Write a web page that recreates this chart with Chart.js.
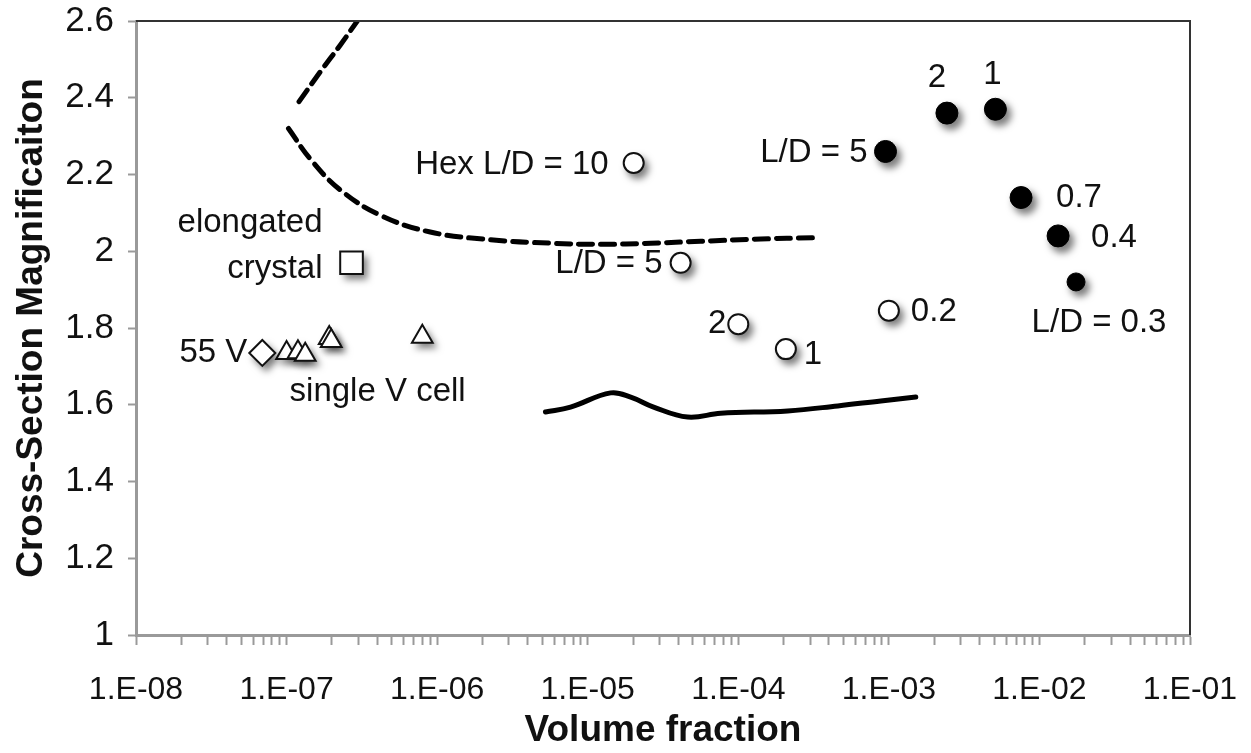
<!DOCTYPE html>
<html lang="en">
<head>
<meta charset="UTF-8">
<title>Cross-Section Magnification</title>
<script src="https://cdn.jsdelivr.net/npm/chart.js@4.4.1/dist/chart.umd.min.js"></script>
<style>
  html, body { margin: 0; padding: 0; background: #fff; }
  #wrap { width: 1251px; height: 753px; }
</style>
</head>
<body>
<div id="wrap"><canvas id="myChart" width="1251" height="753"></canvas></div>
<script>
// values
var diamondX = [6.9e-8];
var diamondY = [1.735];
var triX = [1.0e-7, 1.19e-7, 1.33e-7, 1.92e-7, 1.98e-7, 7.97e-7];
var triY = [1.735, 1.737, 1.73, 1.774, 1.766, 1.777];
var squareX = [2.7e-7];
var squareY = [1.97];
var openX = [2.02e-5, 4.14e-5, 1.0e-4, 2.07e-4, 1.0e-3];
var openY = [2.23, 1.97, 1.81, 1.745, 1.845];
var filledX = [9.5e-4, 2.43e-3, 5.1e-3, 7.55e-3, 1.33e-2, 1.75e-2];
var filledY = [2.26, 2.36, 2.37, 2.14, 2.04, 1.92];

// dashed boundary, upper and lower branch
var dashUpX = [1.21e-7, 1.67e-7, 2.27e-7, 2.95e-7];
var dashUpY = [2.39, 2.467, 2.537, 2.6];
var dashLowX = [1.03e-7, 1.44e-7, 2.27e-7, 4.19e-7, 9.0e-7, 2.26e-6, 5.66e-6, 1.22e-5, 2.62e-5, 5.62e-5, 1.41e-4, 3.13e-4];
var dashLowY = [2.32, 2.24, 2.16, 2.094, 2.05, 2.03, 2.021, 2.018, 2.021, 2.026, 2.032, 2.035];

// solid curve
var solidX = [5.24e-6, 7.69e-6, 1.42e-5, 1.93e-5, 2.74e-5, 4.61e-5, 7.64e-5, 2.13e-4, 4.58e-4, 8.85e-4, 1.51e-3];
var solidY = [1.581, 1.594, 1.631, 1.62, 1.594, 1.568, 1.578, 1.584, 1.597, 1.61, 1.62];

// tick labels
var xTickLabels = ['1.E-08', '1.E-07', '1.E-06', '1.E-05', '1.E-04', '1.E-03', '1.E-02', '1.E-01'];
var yTickLabels = ['1', '1.2', '1.4', '1.6', '1.8', '2', '2.2', '2.4', '2.6'];

// point labels
var openLabels = ['Hex L/D = 10', 'L/D = 5', '2', '1', '0.2'];
var filledLabels = ['L/D = 5', '2', '1', '0.7', '0.4', 'L/D = 0.3'];

function pts(xs, ys) {
    return xs.map(function (x, i) { return {x: x, y: ys[i]}; });
}

var FONT = '"Liberation Sans", Arial, Helvetica, sans-serif';

// text next to points: dataset index, point index, text, offset, alignment
var notes = [
    {ds: 0, i: 0, text: '55 V', dx: -15, dy: 0, align: 'right'},
    {ds: 1, i: 0, text: 'single V cell', dx: 3, dy: 39, align: 'left'},
    {ds: 2, i: 0, text: 'elongated', dx: -29, dy: -40, align: 'right'},
    {ds: 2, i: 0, text: 'crystal', dx: -29, dy: 6, align: 'right'},
    {ds: 3, i: 0, text: openLabels[0], dx: -25, dy: 2, align: 'right'},
    {ds: 3, i: 1, text: openLabels[1], dx: -18, dy: 1, align: 'right'},
    {ds: 3, i: 2, text: openLabels[2], dx: -12, dy: 0, align: 'right'},
    {ds: 3, i: 3, text: openLabels[3], dx: 18, dy: 6, align: 'left'},
    {ds: 3, i: 4, text: openLabels[4], dx: 22, dy: 1, align: 'left'},
    {ds: 4, i: 0, text: filledLabels[0], dx: -18, dy: 1, align: 'right'},
    {ds: 4, i: 1, text: filledLabels[1], dx: -10, dy: -35, align: 'center'},
    {ds: 4, i: 2, text: filledLabels[2], dx: -3, dy: -34, align: 'center'},
    {ds: 4, i: 3, text: filledLabels[3], dx: 35, dy: 0, align: 'left'},
    {ds: 4, i: 4, text: filledLabels[4], dx: 33, dy: 2, align: 'left'},
    {ds: 4, i: 5, text: filledLabels[5], dx: 23, dy: 41, align: 'center'}
];

// soft grey shadow under the markers only (shape drawn off screen, shadow shifted back)
var markerShadow = {
    id: 'markerShadow',
    beforeDatasetDraw: function (chart, args) {
        if (chart.data.datasets[args.index].showLine) return;
        var ctx = chart.ctx;
        var far = 5000;
        ctx.save();
        ctx.shadowColor = 'rgba(0,0,0,0.5)';
        ctx.shadowBlur = 7;
        ctx.shadowOffsetX = far + 4;
        ctx.shadowOffsetY = 5;
        ctx.fillStyle = '#000';
        args.meta.data.forEach(function (el) {
            var o = el.options;
            Chart.helpers.drawPoint(ctx, {
                pointStyle: o.pointStyle, radius: o.radius + 1, rotation: 0, borderWidth: 0
            }, el.x - far, el.y);
        });
        ctx.restore();
    }
};

var frame = {
    id: 'frame',
    afterDraw: function (chart) {
        var a = chart.chartArea, ctx = chart.ctx;
        ctx.save();
        ctx.strokeStyle = '#333';
        ctx.lineWidth = 2;
        ctx.beginPath();
        ctx.moveTo(a.left, a.top);
        ctx.lineTo(a.right, a.top);
        ctx.lineTo(a.right, a.bottom);
        ctx.stroke();
        ctx.restore();
    }
};

var pointNotes = {
    id: 'pointNotes',
    afterDatasetsDraw: function (chart) {
        var ctx = chart.ctx;
        ctx.save();
        ctx.font = '33px ' + FONT;
        ctx.fillStyle = '#111';
        ctx.textBaseline = 'middle';
        notes.forEach(function (n) {
            var el = chart.getDatasetMeta(n.ds).data[n.i];
            ctx.textAlign = n.align;
            ctx.fillText(n.text, el.x + n.dx, el.y + n.dy);
        });
        ctx.restore();
    }
};

var ctx = document.getElementById('myChart').getContext('2d');
var chart = new Chart(ctx, {
    type: 'scatter',
    data: {
        datasets: [{
            data: pts(diamondX, diamondY),
            pointStyle: 'rectRot', pointRadius: 13,
            backgroundColor: '#fff', borderColor: '#111', borderWidth: 2
        }, {
            data: pts(triX, triY),
            pointStyle: 'triangle', pointRadius: 12,
            backgroundColor: '#fff', borderColor: '#111', borderWidth: 2
        }, {
            data: pts(squareX, squareY),
            pointStyle: 'rect', pointRadius: 16,
            backgroundColor: '#fff', borderColor: '#111', borderWidth: 2
        }, {
            data: pts(openX, openY),
            pointStyle: 'circle', pointRadius: 10,
            backgroundColor: '#fff', borderColor: '#111', borderWidth: 2
        }, {
            data: pts(filledX, filledY),
            pointStyle: 'circle',
            pointRadius: function (c) { return c.dataIndex === filledX.length - 1 ? 9 : 11; },
            backgroundColor: '#000', borderColor: '#000', borderWidth: 1
        }, {
            data: pts(dashUpX, dashUpY),
            showLine: true, pointRadius: 0, tension: 0.4,
            borderColor: '#000', borderWidth: 5, borderDash: [14, 8], borderCapStyle: 'round'
        }, {
            data: pts(dashLowX, dashLowY),
            showLine: true, pointRadius: 0, tension: 0.4,
            borderColor: '#000', borderWidth: 5, borderDash: [14, 8], borderCapStyle: 'round'
        }, {
            data: pts(solidX, solidY),
            showLine: true, pointRadius: 0, tension: 0.4,
            borderColor: '#000', borderWidth: 5, borderCapStyle: 'round'
        }]
    },
    options: {
        responsive: false,
        animation: false,
        layout: {padding: {top: 21, right: 61, left: 0, bottom: 0}},
        plugins: {legend: {display: false}, tooltip: {enabled: false}},
        scales: {
            x: {
                type: 'logarithmic',
                min: 1e-8,
                max: 1e-1,
                afterBuildTicks: function (scale) {
                    var t = [];
                    for (var e = -8; e <= -2; e++) {
                        for (var k = 1; k <= 9; k++) t.push({value: parseFloat(k + 'e' + e)});
                    }
                    t.push({value: 1e-1});
                    scale.ticks = t;
                },
                afterFit: function (scale) {
                    scale.height = 118;
                    scale.paddingLeft = 0;
                    scale.paddingRight = 0;
                },
                grid: {drawOnChartArea: false, drawTicks: true, tickLength: 10, tickColor: '#9a9a9a', tickWidth: 2},
                border: {color: '#9a9a9a', width: 3},
                ticks: {
                    autoSkip: false,
                    maxRotation: 0,
                    padding: 26,
                    color: '#111',
                    font: {size: 32, family: FONT},
                    callback: function (v) {
                        var e = Math.round(Math.log10(v));
                        if (Math.abs(v / Math.pow(10, e) - 1) > 1e-6) return '';
                        return xTickLabels[e + 8];
                    }
                },
                title: {
                    display: true,
                    text: 'Volume fraction',
                    color: '#111',
                    font: {size: 37, weight: 'bold', family: FONT},
                    padding: {top: 0, bottom: 0}
                }
            },
            y: {
                min: 1,
                max: 2.6,
                afterFit: function (scale) {
                    scale.width = 136;
                    scale.paddingTop = 0;
                    scale.paddingBottom = 0;
                },
                grid: {drawOnChartArea: false, drawTicks: true, tickLength: 8, tickColor: '#9a9a9a', tickWidth: 2},
                border: {color: '#9a9a9a', width: 3},
                ticks: {
                    stepSize: 0.2,
                    padding: 14,
                    color: '#111',
                    font: {size: 35, family: FONT},
                    callback: function (v, i) { return yTickLabels[i]; }
                },
                title: {
                    display: true,
                    text: 'Cross-Section Magnificaiton',
                    color: '#111',
                    font: {size: 37, weight: 'bold', family: FONT},
                    padding: {top: 10, bottom: 0}
                }
            }
        }
    },
    plugins: [markerShadow, frame, pointNotes]
});
</script>
</body>
</html>
